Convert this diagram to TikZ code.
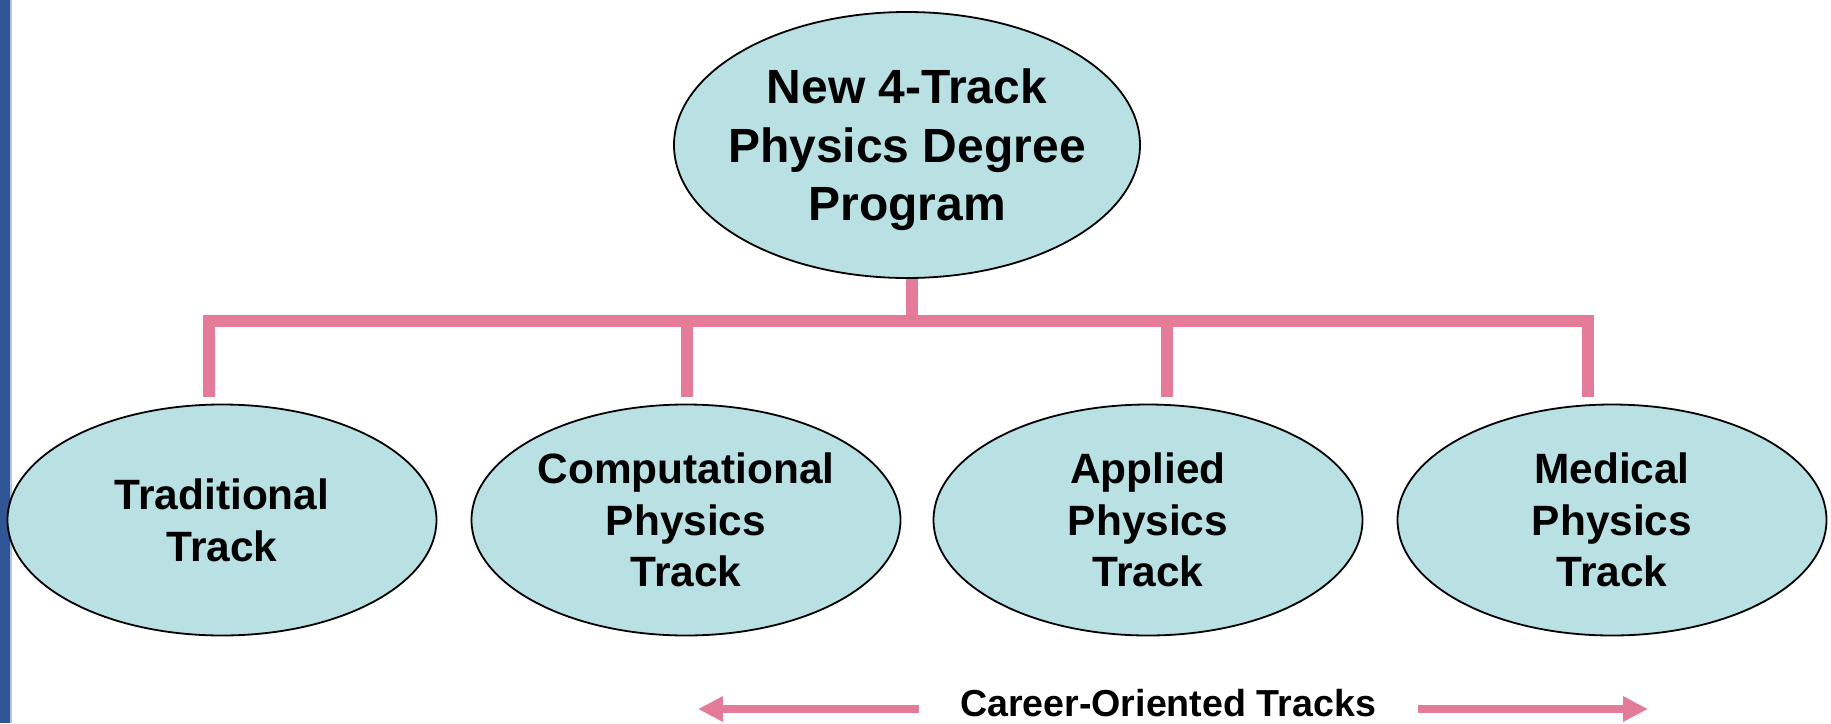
\documentclass[tikz,border=0pt]{standalone}
\usepackage{fontspec}
\setmainfont{Liberation Sans}
\usetikzlibrary{shapes.geometric}
\usetikzlibrary{arrows.meta}
\definecolor{bubblefill}{RGB}{185,224,227}
\definecolor{barpink}{RGB}{228,124,153}
\definecolor{sidebar}{RGB}{47,85,151}
\tikzset{
  bubble/.style={ellipse, draw=black, line width=0.9pt, fill=bubblefill,
    minimum width=214.5pt, minimum height=115.5pt, inner sep=0pt},
  bubbletext/.style={align=center, font=\fontsize{21.2}{25.9}\selectfont\bfseries},
  bar/.style={draw=barpink, line width=6pt},
  careerarrow/.style={draw=barpink, line width=4pt, -{Triangle[width=12pt,length=12.5pt]}}
}

\begin{document}
\begin{tikzpicture}[x=0.5pt, y=-0.5pt]
  \useasboundingbox (0,0) rectangle (1831,723);
  % side bar
  \fill[sidebar] (0,0) rectangle (10,723);
  \fill[sidebar!35] (10,0) rectangle (11.5,723);

  % degree program
  \node[bubble, minimum width=233pt, minimum height=133pt] (prog) at (907,145) {};
  \node[bubbletext, font=\fontsize{24}{29.3}\selectfont\bfseries] (progtext) at (907,150)
    {New 4-Track\\Physics Degree\\Program};

  % the four tracks
  \node[bubble] (trad) at (222,520) {};
  \node[bubble] (comp) at (686,520) {};
  \node[bubble] (appl) at (1148,520) {};
  \node[bubble] (med) at (1612,520) {};
  \node[bubbletext] (tradtext) at (trad.center) {Traditional\\Track};
  \node[bubbletext] (comptext) at (comp.center) {Computational\\Physics\\Track};
  \node[bubbletext] (appltext) at (appl.center) {Applied\\Physics\\Track};
  \node[bubbletext] (medtext) at (med.center) {Medical\\Physics\\Track};

  % tree bar
  \coordinate (barL) at (203,321);
  \coordinate (barR) at (1594,321);
  \coordinate (d1) at (209,321);
  \coordinate (d2) at (687,321);
  \coordinate (d3) at (1167,321);
  \coordinate (d4) at (1588,321);
  \draw[bar] (prog.south -| 912,0) -- (barL -| 912,0);
  \draw[bar] (barL) -- (barR);
  \draw[bar, shorten >=3.5pt] (d1) -- (d1 |- trad.north);
  \draw[bar, shorten >=3.5pt] (d2) -- (d2 |- comp.north);
  \draw[bar, shorten >=3.5pt] (d3) -- (d3 |- appl.north);
  \draw[bar, shorten >=3.5pt] (d4) -- (d4 |- med.north);

  % career-oriented
  \node[anchor=base, inner sep=0pt, font=\fontsize{18.8}{22}\selectfont\bfseries] (career) at (1168,716)
    {Career-Oriented Tracks};
  \coordinate (lefttail) at (919,709);
  \coordinate (lefttip) at (698,709);
  \coordinate (righttail) at (1418,709);
  \coordinate (righttip) at (1648,709);
  \draw[careerarrow] (lefttail) -- (lefttip);
  \draw[careerarrow] (righttail) -- (righttip);
\end{tikzpicture}
\end{document}
